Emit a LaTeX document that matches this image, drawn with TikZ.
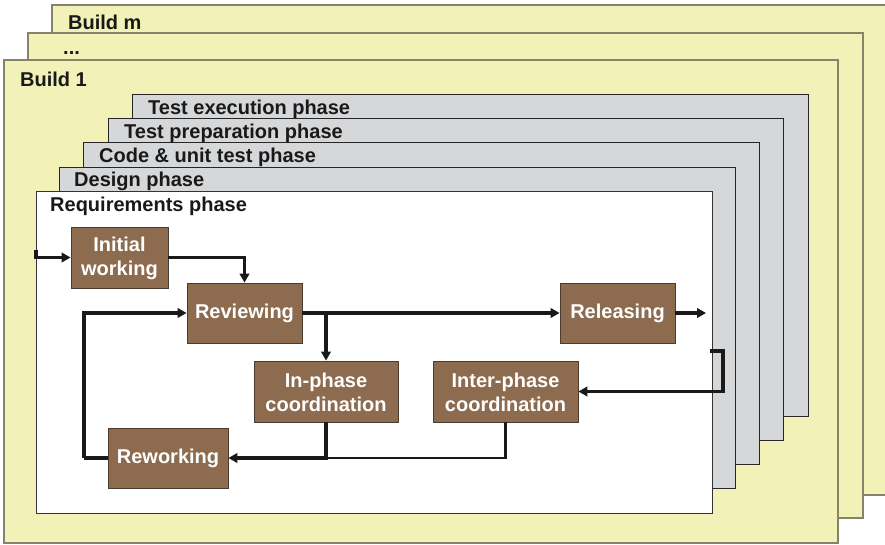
\documentclass[tikz,border=0pt]{standalone}
\usepackage{fontspec}
\setmainfont{Liberation Sans}
\usetikzlibrary{arrows.meta}
\definecolor{buildfill}{HTML}{F2F1B7}
\definecolor{buildedge}{HTML}{85846A}
\definecolor{phasefill}{HTML}{D6D7D9}
\definecolor{stepfill}{HTML}{8C6B4F}
\definecolor{stepedge}{HTML}{4A3C30}
\tikzset{
  build/.style={fill=buildfill, draw=buildedge, line width=1.1pt},
  phase/.style={fill=phasefill, draw=black!85, line width=0.9pt},
  reqbox/.style={fill=white, draw=black!80, line width=0.9pt},
  title/.style={anchor=base west, inner sep=0pt, font=\fontsize{20}{24}\selectfont\bfseries, text=black!90},
  activity/.style={fill=stepfill, draw=stepedge, line width=0.8pt, text=white,
    font=\fontsize{20}{24}\selectfont\bfseries, align=center, inner sep=0pt},
  flow/.style={line width=3.2pt, draw=black!90, -{Triangle[length=9pt,width=9.5pt]}},
  flowplain/.style={line width=3.2pt, draw=black!90},
  thinflow/.style={line width=2.2pt, draw=black!90}
}
\begin{document}
\begin{tikzpicture}[x=1pt, y=-1pt]
\useasboundingbox (0,0) rectangle (885,545);
\clip (0,0) rectangle (885,545);

% stacked builds
\path[build] (52,5) rectangle (892,495);
\node[title] (bm) at (68,30) {Build m};
\path[build] (28,33) rectangle (863,518);
\node[title] (bd) at (63,55) {...};
\path[build] (4,60) rectangle (838,543);
\node[title] (b1) at (20,87) {Build 1};

% stacked phases of a build
\path[phase] (132,94) rectangle (808,416);
\node[title] (te) at (148,115) {Test execution phase};
\path[phase] (108,118) rectangle (783,440);
\node[title] (tp) at (124,139) {Test preparation phase};
\path[phase] (83,142) rectangle (759,464);
\node[title] (cu) at (99,163) {Code \& unit test phase};
\path[phase] (59,167) rectangle (735,488);
\node[title] (de) at (74,187) {Design phase};
\path[reqbox] (36,191) rectangle (712,513);
\node[title] (rq) at (50,212) {Requirements phase};

% activities of the requirements phase
\node[activity, minimum width=97pt, minimum height=61pt] (init) at (119.5,257.5) {\rule{0pt}{17pt}Initial\\working};
\node[activity, minimum width=115pt, minimum height=60pt] (rev) at (244.5,313) {\rule[-1pt]{0pt}{16pt}Reviewing};
\node[activity, minimum width=115pt, minimum height=60pt] (rel) at (617.5,313) {\rule[-1pt]{0pt}{16pt}Releasing};
\node[activity, minimum width=144pt, minimum height=61pt] (inph) at (326,391.5) {\rule{0pt}{17pt}In-phase\\coordination};
\node[activity, minimum width=145pt, minimum height=61pt] (inter) at (505.5,391.5) {\rule{0pt}{17pt}Inter-phase\\coordination};
\node[activity, minimum width=120pt, minimum height=60pt] (rewk) at (168,458) {\rule[-1pt]{0pt}{16pt}Reworking};

% entry and exit points on the phase border
\coordinate (entry) at (36,250);
\coordinate (exit) at (706,313);
\coordinate (back) at (710,351);
\coordinate (backturn) at (723,351);
\coordinate (loop) at (84,458);

% flows
\draw[flow] (entry) |- (init.west);
\draw[flow] (init.east) -| (rev.north);
\draw[flow] (rev.east) -- (rel.west);
\draw[flow] (rev.east -| inph.north) -- (inph.north);
\draw[flow] (rel.east) -- (exit);
\draw[flow] (back) -- (backturn) |- (inter.east);
\draw[thinflow] (inter.south) |- (inph.south |- rewk.east);
\draw[flow] (inph.south) |- (rewk.east);
\draw[flowplain] (rewk.west) -- (loop);
\draw[flow] (loop) |- (rev.west);
\end{tikzpicture}
\end{document}
